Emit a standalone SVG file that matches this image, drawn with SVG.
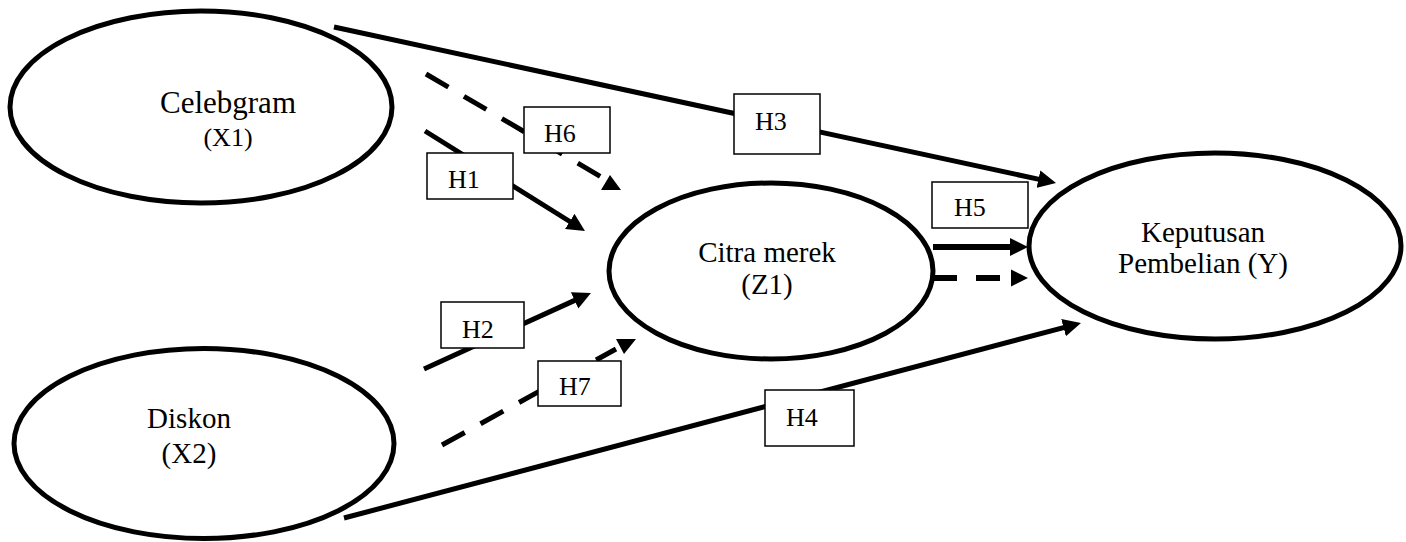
<svg xmlns="http://www.w3.org/2000/svg" width="1406" height="542" viewBox="0 0 1406 542">
<style>
.node{fill:#fff;stroke:#000;stroke-width:5}
.nt{font-family:"Liberation Serif","Times New Roman",serif;font-size:29px;fill:#000;text-anchor:middle}
.ln{fill:none;stroke:#000;stroke-width:5}
.dash{stroke-dasharray:26 18}
.lb rect{fill:#fff;stroke:#000;stroke-width:1.5}
.lb text{font-family:"Liberation Serif","Times New Roman",serif;font-size:26px;fill:#000}
</style>
<defs>
<marker id="ah" markerWidth="18" markerHeight="18" refX="2" refY="9" orient="auto" markerUnits="userSpaceOnUse">
<path d="M0,0 L18,9 L0,18 z" fill="#000"/>
</marker>
</defs>
<rect width="1406" height="542" fill="#fff"/>
<g id="connectors">
<line class="ln" x1="334" y1="27" x2="1040.4" y2="179.6" marker-end="url(#ah)"/>
<line class="ln" x1="425" y1="131" x2="571.4" y2="222.5" marker-end="url(#ah)"/>
<line class="ln dash" x1="426" y1="74" x2="603" y2="178"/>
<polygon points="610,175 601,190 621,190" fill="#000"/>
<line class="ln" x1="424" y1="369" x2="576.4" y2="299.6" marker-end="url(#ah)"/>
<line class="ln dash" x1="442" y1="445" x2="616" y2="349"/>
<polygon points="616,339 636,339 624,354" fill="#000"/>
<line class="ln" x1="344" y1="518" x2="1065.5" y2="327.1" marker-end="url(#ah)"/>
<line class="ln" style="stroke-width:6" x1="933" y1="247" x2="1012" y2="247" marker-end="url(#ah)"/>
<line class="ln" style="stroke-width:6;stroke-dasharray:24 19" x1="933" y1="278" x2="1002" y2="278"/>
<polygon points="1011,269.5 1028,278 1011,286.5" fill="#000"/>
<g class="lb" id="lbl-h1"><rect x="427" y="153" width="86" height="46"/><text x="448" y="188">H1</text></g>
<g class="lb" id="lbl-h6"><rect x="524" y="107" width="86" height="46"/><text x="544" y="142">H6</text></g>
<g class="lb" id="lbl-h2"><rect x="441" y="302" width="83" height="46"/><text x="462" y="338">H2</text></g>
<g class="lb" id="lbl-h7"><rect x="538" y="361" width="83" height="45"/><text x="559" y="395">H7</text></g>
<g class="lb" id="lbl-h3"><rect x="734" y="94" width="86" height="60"/><text x="755" y="130">H3</text></g>
<g class="lb" id="lbl-h4"><rect x="765" y="390" width="89" height="56"/><text x="786" y="426">H4</text></g>
<g class="lb" id="lbl-h5"><rect x="932" y="182" width="96" height="46"/><text x="954" y="216">H5</text></g>
</g>
<g id="node-x1">
<ellipse class="node" cx="201" cy="107" rx="191" ry="96"/>
<text class="nt" x="228" y="113" style="font-size:31px">Celebgram</text>
<text class="nt" x="228" y="146" style="font-size:26px">(X1)</text>
</g>
<g id="node-x2">
<ellipse class="node" cx="204" cy="443.5" rx="190" ry="95"/>
<text class="nt" x="189" y="428">Diskon</text>
<text class="nt" x="189" y="463">(X2)</text>
</g>
<g id="node-z1">
<ellipse class="node" cx="771" cy="271" rx="162" ry="88"/>
<text class="nt" x="767" y="262">Citra merek</text>
<text class="nt" x="767" y="294">(Z1)</text>
</g>
<g id="node-y">
<ellipse class="node" cx="1215" cy="246" rx="186" ry="93"/>
<text class="nt" x="1203" y="242">Keputusan</text>
<text class="nt" x="1203" y="273">Pembelian (Y)</text>
</g>
</svg>
